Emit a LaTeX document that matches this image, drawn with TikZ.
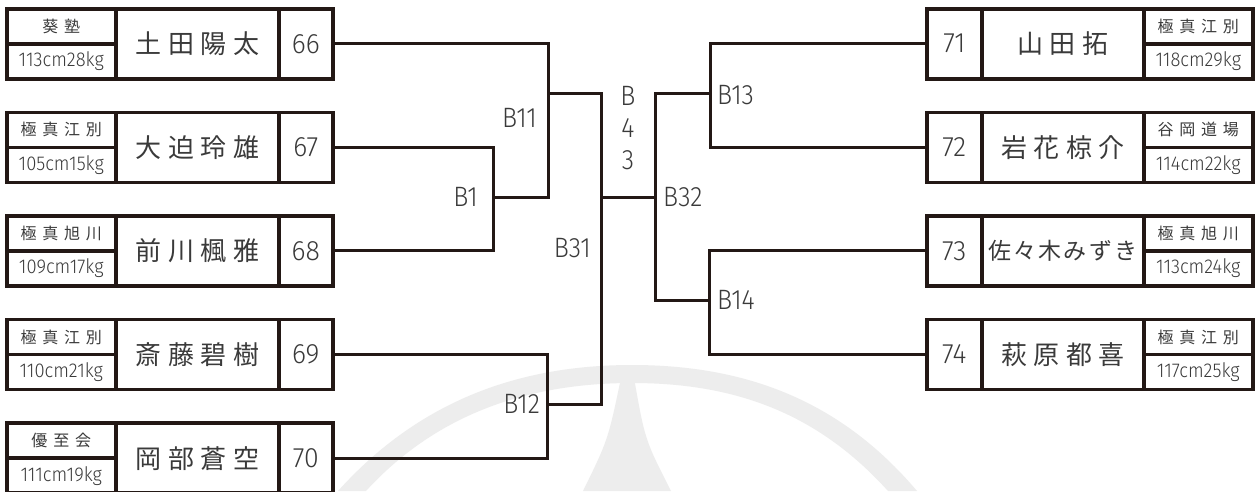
\documentclass[tikz,border=0pt]{standalone}
\usepackage{fontspec}
\newfontfamily\lat[FakeStretch=0.9]{Fira Sans Light}
\newfontfamily\latn[FakeStretch=0.95]{Fira Sans Light}
\newfontfamily\latw[FakeStretch=0.92]{Fira Sans Light}
\newfontfamily\cjk{Noto Sans CJK JP}
\definecolor{lc}{HTML}{231815}
\definecolor{tc}{HTML}{3A3A3A}
\definecolor{wm}{HTML}{EDEDED}
\newcommand\gq{\hspace{0.36em}}
\newcommand\gn{\hspace{0.25em}}
\newcommand\gs{\hspace{0.1em}}
\newcommand\clubf{\cjk\fontsize{16}{18}\selectfont}
\newcommand\namef{\cjk\fontsize{26}{28}\selectfont}
\newcommand\wtf{\latw\fontsize{20}{24}\selectfont}
\newcommand\numf{\latn\fontsize{28}{32}\selectfont}
\newcommand\lblf{\lat\fontsize{28}{32}\selectfont}
\tikzset{
  cell/.style={draw=lc, line width=3.5pt, inner sep=0pt, anchor=north west, text=tc},
  wire/.style={draw=lc, line width=3pt},
  lbl/.style={text=tc, font=\lblf, inner sep=0pt},
}
% left entry: id, top, club, weight, name, number
\newcommand\Lentry[6]{%
  \node[cell, minimum width=109pt, minimum height=35pt, font=\clubf] (#1club) at (5,#2) {#3};
  \node[cell, minimum width=109pt, minimum height=35pt, font=\wtf] (#1wt) at (5,#2+35) {#4};
  \node[cell, minimum width=163pt, minimum height=70pt, font=\namef] (#1name) at (114,#2) {#5};
  \node[cell, minimum width=54pt, minimum height=70pt, font=\numf] (#1num) at (277,#2) {#6};
}
% right entry: id, top, club, weight, name, number
\newcommand\Rentry[6]{%
  \node[cell, minimum width=55pt, minimum height=70pt, font=\numf] (#1num) at (925,#2) {#6};
  \node[cell, minimum width=162pt, minimum height=70pt, font=\namef] (#1name) at (980,#2) {#5};
  \node[cell, minimum width=109pt, minimum height=35pt, font=\clubf] (#1club) at (1142,#2) {#3};
  \node[cell, minimum width=109pt, minimum height=35pt, font=\wtf] (#1wt) at (1142,#2+35) {#4};
}
\begin{document}
\begin{tikzpicture}[x=1pt, y=-1pt]
\useasboundingbox (0,0) rectangle (1255,491);
\fill[white] (0,0) rectangle (1255,491);
% watermark
\fill[wm] (338,491) .. controls (420,400) and (520,365) .. (632,365)
  .. controls (745,365) and (840,400) .. (917,491) -- (888,491)
  .. controls (815,410) and (730,383) .. (632,383)
  .. controls (535,383) and (440,410) .. (366,491) -- cycle;
\fill[wm] (621,378) -- (634,378) .. controls (645,440) .. (671,491) -- (583,491)
  .. controls (608,440) .. (621,378) -- cycle;

\Lentry{L66}{7}{葵\gq 塾}{113cm28kg}{土\gn 田\gn 陽\gn 太}{66}
\Lentry{L67}{110.6}{極\gq 真\gq 江\gq 別}{105cm15kg}{大\gn 迫\gn 玲\gn 雄}{67}
\Lentry{L68}{214.2}{極\gq 真\gq 旭\gq 川}{109cm17kg}{前\gn 川\gn 楓\gn 雅}{68}
\Lentry{L69}{317.8}{極\gq 真\gq 江\gq 別}{110cm21kg}{斎\gn 藤\gn 碧\gn 樹}{69}
\Lentry{L70}{421.4}{優\gq 至\gq 会}{111cm19kg}{岡\gn 部\gn 蒼\gn 空}{70}

\Rentry{R71}{7}{極\gq 真\gq 江\gq 別}{118cm29kg}{山\gn 田\gn 拓}{71}
\Rentry{R72}{110.6}{谷\gq 岡\gq 道\gq 場}{114cm22kg}{岩\gn 花\gn 椋\gn 介}{72}
\Rentry{R73}{214.2}{極\gq 真\gq 旭\gq 川}{113cm24kg}{{\fontsize{23}{26}\selectfont 佐\gs 々\gs 木\gs み\gs ず\gs き}}{73}
\Rentry{R74}{317.8}{極\gq 真\gq 江\gq 別}{117cm25kg}{萩\gn 原\gn 都\gn 喜}{74}

% joints
\coordinate (jB1) at (493,197);
\coordinate (jB11) at (548,93);
\coordinate (jB12) at (547,404);
\coordinate (jB31) at (601,197);
\coordinate (jB32) at (655,197);
\coordinate (jB13) at (710,93);
\coordinate (jB14) at (709,300);

\draw[wire] (L67num.east) -| (jB1) |- (L68num.east);
\draw[wire] (L66num.east) -| (jB1 -| jB11) -- (jB1);
\draw[wire] (L69num.east) -| (jB12) |- (L70num.east);
\draw[wire] (jB11) -- (jB11 -| jB31) -- (jB12 -| jB31) -- (jB12);
\draw[wire] (jB31) -- (jB32);
\draw[wire] (jB13) -- (jB13 -| jB32) -- (jB14 -| jB32) -- (jB14);
\draw[wire] (R71num.west) -| (jB13) |- (R72num.west);
\draw[wire] (R73num.west) -| (jB14) |- (R74num.west);

% labels
\node[lbl, anchor=east] (tB11) at (537,118) {B11};
\node[lbl, anchor=east] (tB1) at (478,197) {B1};
\node[lbl, align=center, font=\lat\fontsize{28}{32}\selectfont] (tB43) at (628,128) {B\\4\\3};
\node[lbl, anchor=west] (tB32) at (663,197) {B32};
\node[lbl, anchor=east] (tB31) at (591,248) {B31};
\node[lbl, anchor=east] (tB12) at (540,404) {B12};
\node[lbl, anchor=west] (tB14) at (717,300) {B14};
\node[lbl, anchor=west] (tB13) at (717,95) {B13};
\end{tikzpicture}
\end{document}
